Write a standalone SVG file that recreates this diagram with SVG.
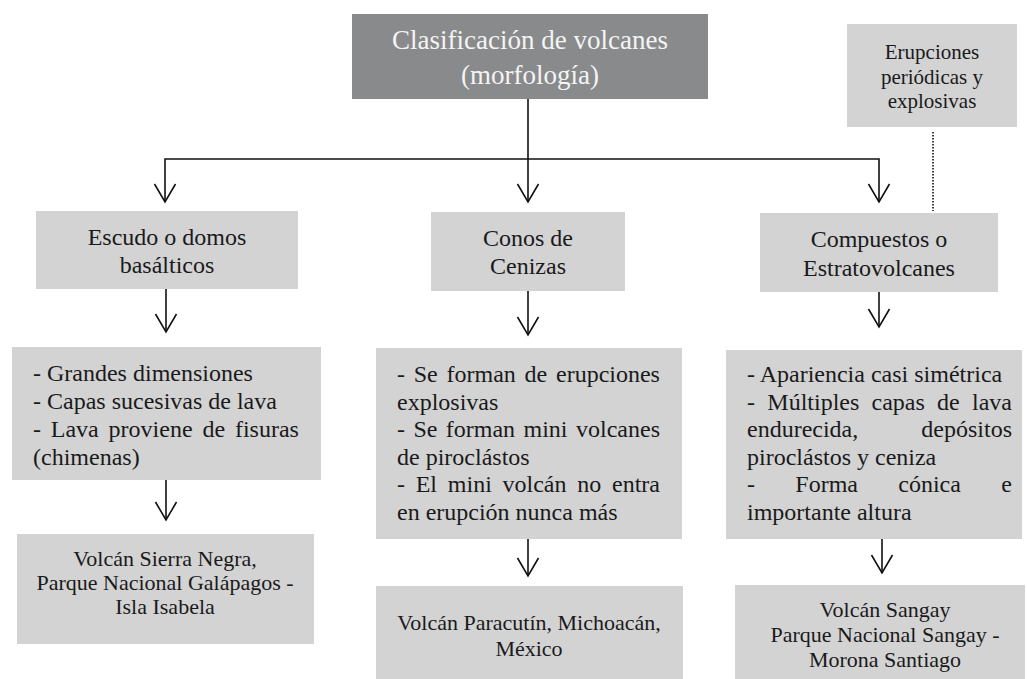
<svg xmlns="http://www.w3.org/2000/svg" width="1027" height="679" viewBox="0 0 1027 679">
<style>
.box{fill:#d3d3d4}
.dark{fill:#898a8b}
text{font-family:'Liberation Serif','DejaVu Serif',serif;fill:#1a1a1a}
.t24{font-size:24px}
.t22{font-size:22px}
.t21{font-size:21px}
.c{text-anchor:middle}
.title{font-size:27px;fill:#f4f4f4;text-anchor:middle}
.ln{stroke:#111;stroke-width:1.6;fill:none}
.dot{stroke:#111;stroke-width:1.6;fill:none;stroke-dasharray:1.6 1.4}
</style>
<defs>
<marker id="arr" viewBox="-20 -12 22 24" refX="0" refY="0" markerWidth="22" markerHeight="24" markerUnits="userSpaceOnUse" orient="auto-start-reverse">
<path d="M-18,-10.5 L0,0 L-18,10.5" fill="none" stroke="#111" stroke-width="1.6"/>
</marker>
</defs>
<rect width="1027" height="679" fill="#fff"/>

<g id="connectors">
<path class="ln" d="M528,99 V202" marker-end="url(#arr)"/>
<path class="ln" d="M165,202 V159 H879 V202" marker-start="url(#arr)" marker-end="url(#arr)"/>
<path class="dot" d="M933,132 V211"/>
<path class="ln" d="M166,289 V332" marker-end="url(#arr)"/>
<path class="ln" d="M528,291 V335" marker-end="url(#arr)"/>
<path class="ln" d="M879,292 V327" marker-end="url(#arr)"/>
<path class="ln" d="M166,480 V520" marker-end="url(#arr)"/>
<path class="ln" d="M528,539 V576" marker-end="url(#arr)"/>
<path class="ln" d="M882,539 V573" marker-end="url(#arr)"/>
</g>

<g id="title">
<rect class="dark" x="352" y="14" width="356" height="85"/>
<text class="title" x="530" y="49">Clasificación de volcanes</text>
<text class="title" x="530" y="84">(morfología)</text>
</g>

<g id="erupciones">
<rect class="box" x="847" y="24" width="170" height="103"/>
<text class="t21 c" x="932" y="59">Erupciones</text>
<text class="t21 c" x="932" y="84">periódicas y</text>
<text class="t21 c" x="932" y="108">explosivas</text>
</g>

<g id="escudo">
<rect class="box" x="36" y="211" width="262" height="78"/>
<text class="t24 c" x="167" y="245">Escudo o domos</text>
<text class="t24 c" x="167" y="273">basálticos</text>
</g>

<g id="conos">
<rect class="box" x="431" y="212" width="194" height="79"/>
<text class="t24 c" x="528" y="246">Conos de</text>
<text class="t24 c" x="528" y="274">Cenizas</text>
</g>

<g id="compuestos">
<rect class="box" x="760" y="213" width="238" height="79"/>
<text class="t24 c" x="879" y="247">Compuestos o</text>
<text class="t24 c" x="879" y="276">Estratovolcanes</text>
</g>

<g id="escudo-caract">
<rect class="box" x="12" y="347" width="309" height="133"/>
<text class="t24" x="33" y="381">- Grandes dimensiones</text>
<text class="t24" x="33" y="409">- Capas sucesivas de lava</text>
<text class="t24" y="437"><tspan x="33">-</tspan><tspan x="50.8">Lava</tspan><tspan x="108.6">proviene</tspan><tspan x="202.4">de</tspan><tspan x="234.9">fisuras</tspan></text>
<text class="t24" x="33" y="465">(chimenas)</text>
</g>

<g id="conos-caract">
<rect class="box" x="376" y="348" width="306" height="191"/>
<text class="t24" y="382"><tspan x="397">-</tspan><tspan x="413.7">Se</tspan><tspan x="446.5">forman</tspan><tspan x="524.5">de</tspan><tspan x="556">erupciones</tspan></text>
<text class="t24" x="397" y="409.6">explosivas</text>
<text class="t24" y="437.2"><tspan x="397">-</tspan><tspan x="413.4">Se</tspan><tspan x="445.8">forman</tspan><tspan x="523.5">mini</tspan><tspan x="576">volcanes</tspan></text>
<text class="t24" x="397" y="464.8">de piroclástos</text>
<text class="t24" y="492.4"><tspan x="397">-</tspan><tspan x="415.7">El</tspan><tspan x="447.8">mini</tspan><tspan x="502.5">volcán</tspan><tspan x="577.2">no</tspan><tspan x="612">entra</tspan></text>
<text class="t24" x="397" y="520">en erupción nunca más</text>
</g>

<g id="compuestos-caract">
<rect class="box" x="726" y="350" width="296" height="189"/>
<text class="t24" x="747" y="382">- Apariencia casi simétrica</text>
<text class="t24" y="409.6"><tspan x="747">-</tspan><tspan x="767.3">Múltiples</tspan><tspan x="871.5">capas</tspan><tspan x="937">de</tspan><tspan x="972">lava</tspan></text>
<text class="t24" y="437.2"><tspan x="747">endurecida,</tspan><tspan x="921.3">depósitos</tspan></text>
<text class="t24" x="747" y="464.8">piroclástos y ceniza</text>
<text class="t24" y="492.4"><tspan x="747">-</tspan><tspan x="795.3">Forma</tspan><tspan x="898.3">cónica</tspan><tspan x="1001.3">e</tspan></text>
<text class="t24" x="747" y="520">importante altura</text>
</g>

<g id="sierra-negra">
<rect class="box" x="17" y="534" width="297" height="110"/>
<text class="t22 c" x="165" y="566">Volcán Sierra Negra,</text>
<text class="t22 c" x="165" y="590">Parque Nacional Galápagos -</text>
<text class="t22 c" x="165" y="614">Isla Isabela</text>
</g>

<g id="paracutin">
<rect class="box" x="376" y="586" width="307" height="93"/>
<text class="t22 c" x="529" y="630">Volcán Paracutín, Michoacán,</text>
<text class="t22 c" x="529" y="656">México</text>
</g>

<g id="sangay">
<rect class="box" x="735" y="585" width="290" height="94"/>
<text class="t22 c" x="885" y="617">Volcán Sangay</text>
<text class="t22 c" x="885" y="642">Parque Nacional Sangay -</text>
<text class="t22 c" x="885" y="667">Morona Santiago</text>
</g>
</svg>
